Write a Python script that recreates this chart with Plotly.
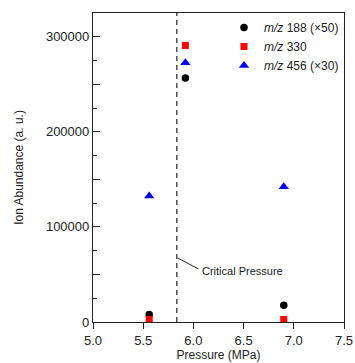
import plotly.graph_objects as go

# Data
pressure = [5.56, 5.92, 6.90]
mz188_x50 = [7900, 256600, 17600]
mz330 = [2600, 290900, 2600]
mz456_x30 = [132600, 272700, 142300]
critical_pressure = 5.835

series_names = ["<i>m/z</i> 188 (×50)", "<i>m/z</i> 330", "<i>m/z</i> 456 (×30)"]
x_ticks = [5.0, 5.5, 6.0, 6.5, 7.0, 7.5]
y_ticks = [0, 50000, 100000, 150000, 200000, 250000, 300000]
y_ticktext = ["0", "", "100000", "", "200000", "", "300000"]

FONT = "Liberation Sans, Arial, sans-serif"

fig = go.Figure()
fig.add_trace(go.Scatter(x=pressure, y=mz188_x50, mode="markers", name=series_names[0],
                         marker=dict(symbol="circle", size=7.5, color="black")))
fig.add_trace(go.Scatter(x=pressure, y=mz330, mode="markers", name=series_names[1],
                         marker=dict(symbol="square", size=7, color="#ff0000")))
fig.add_trace(go.Scatter(x=pressure, y=mz456_x30, mode="markers", name=series_names[2],
                         marker=dict(symbol="triangle-up", size=9, color="#0000ff")))

# critical pressure dashed line
fig.add_shape(type="line", xref="x", yref="paper", x0=critical_pressure, x1=critical_pressure,
              y0=0, y1=1, line=dict(color="#222", width=1.2, dash="5px,4px"))
# leader line
fig.add_shape(type="line", xref="x", yref="y", x0=critical_pressure + 0.01, y0=67300,
              x1=6.05, y1=55800, line=dict(color="#222", width=1))
fig.add_annotation(x=6.065, y=53900, xref="x", yref="y", text="Critical Pressure",
                   showarrow=False, xanchor="left", yanchor="middle",
                   font=dict(family=FONT, size=11, color="#222"))

fig.update_layout(
    width=355, height=363,
    margin=dict(l=93, r=11, t=13, b=41),
    paper_bgcolor="white", plot_bgcolor="white",
    font=dict(family=FONT, size=13, color="#222"),
    showlegend=True,
    legend=dict(x=1.0, y=1.0, xanchor="right", yanchor="top",
                bgcolor="rgba(0,0,0,0)", font=dict(family=FONT, size=12, color="#222"),
                itemwidth=30, tracegroupgap=0),
)
fig.update_xaxes(range=[5.0, 7.5], tickvals=x_ticks, ticktext=[f"{v:.1f}" for v in x_ticks],
                 ticks="outside", ticklen=6, tickcolor="#222", showgrid=False, zeroline=False,
                 showline=True, linecolor="#222", linewidth=1.2, mirror=True, automargin=False,
                 title=dict(text="Pressure (MPa)", font=dict(size=12), standoff=2),
                 tickfont=dict(size=13))
fig.update_yaxes(range=[0, 325000], tickvals=y_ticks, ticktext=y_ticktext,
                 ticks="inside", ticklen=7, tickcolor="#222", showgrid=False, zeroline=False,
                 showline=True, linecolor="#222", linewidth=1.2, mirror=True, automargin=False,
                 minor=dict(dtick=25000, ticks="inside", ticklen=3.5, tickcolor="#222", showgrid=False),
                 title=dict(text="Ion Abundance (a. u.)", font=dict(size=12), standoff=19),
                 tickfont=dict(size=13))

fig.write_html("out.html", config={"displayModeBar": False},
               post_script="document.body.style.margin='0';document.body.style.overflow='hidden';")
